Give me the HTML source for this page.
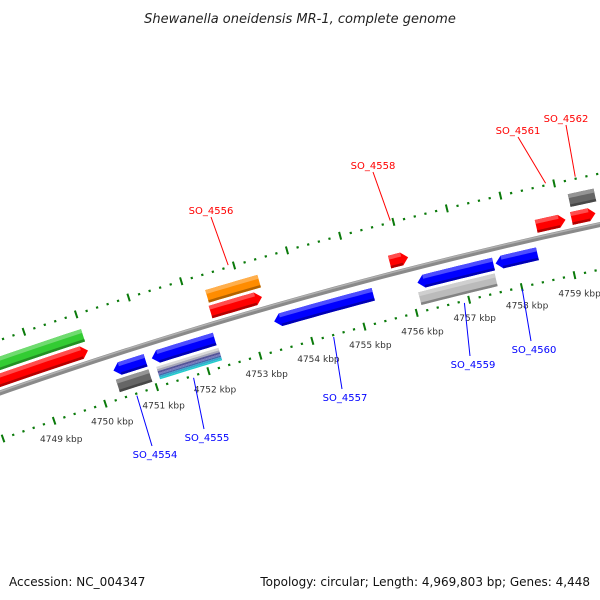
<!DOCTYPE html>
<html><head><meta charset="utf-8"><style>
html,body{margin:0;padding:0;background:#fff;}
svg{display:block;}
</style></head><body>
<svg id="chart" width="600" height="600" xmlns="http://www.w3.org/2000/svg">
<text x="300" y="23" text-anchor="middle" font-family="DejaVu Sans, sans-serif" font-style="italic" font-size="13" fill="#222">Shewanella oneidensis MR-1, complete genome</text>
<g id="map"></g>
<text x="9" y="586" font-family="DejaVu Sans, sans-serif" font-size="12" fill="#111">Accession: NC_004347</text>
<text x="590" y="586" text-anchor="end" font-family="DejaVu Sans, sans-serif" font-size="12" fill="#111">Topology: circular; Length: 4,969,803 bp; Genes: 4,448</text>
</svg>
<script>
// ---- data ----
const featStart = [4746.0, 4746.0, 4752.37, 4752.35, 4755.75, 4758.51, 4759.17, 4759.2, 4750.33, 4750.32, 4751.07, 4751.1, 4753.42, 4756.15, 4756.12, 4757.63];
const featEnd   = [4750.0, 4750.0, 4753.36, 4753.33, 4756.10, 4759.06, 4759.62, 4759.68, 4750.95, 4750.95, 4752.28, 4752.3, 4755.31, 4757.59, 4757.57, 4758.42];
const featDir   = [0, 1, 0, 1, 1, 1, 1, 0, -1, 0, -1, 0, -1, -1, 0, -1];
const featLane  = [28, 12, 28, 12, 12, 12, 12, 30, -15, -31, -15, -31, -15, -15, -31, -15];
const featColor = ['#33cc33','#ff0000','#ff8c00','#ff0000','#ff0000','#ff0000','#ff0000','#666666','#0000ff','#666666','#0000ff','stripe','#0000ff','#0000ff','#bbbbbb','#0000ff'];
const tickKbp = [4748, 4749, 4750, 4751, 4752, 4753, 4754, 4755, 4756, 4757, 4758, 4759, 4760];
const kbpLabels = ['4749 kbp','4750 kbp','4751 kbp','4752 kbp','4753 kbp','4754 kbp','4755 kbp','4756 kbp','4757 kbp','4758 kbp','4759 kbp'];
const kbpLabelPos = [4749, 4750, 4751, 4752, 4753, 4754, 4755, 4756, 4757, 4758, 4759];
const geneNames = ['SO_4556','SO_4558','SO_4561','SO_4562','SO_4554','SO_4555','SO_4557','SO_4559','SO_4560'];
const geneKbp   = [4752.9, 4755.95, 4758.85, 4759.4, 4750.6, 4751.7, 4754.4, 4756.9, 4758.0];
const geneStrand= [1, 1, 1, 1, -1, -1, -1, -1, -1];
const geneLabelX= [211, 373, 518, 566, 155, 207, 345, 473, 534];
const geneLabelY= [214, 169, 134, 122, 458, 441, 401, 368, 353];

// ---- geometry ----
const CX = 1648, CY = 5113.5, R = 5000;
function pt(k, dr){
  const a = (-107.51 + (k - 4751) * 0.625) * Math.PI / 180;
  const r = R + dr;
  return [CX + r * Math.cos(a), CY + r * Math.sin(a)];
}
const NS = 'http://www.w3.org/2000/svg';
const map = document.getElementById('map');
function mk(tag, attrs){
  const el = document.createElementNS(NS, tag);
  for (const k in attrs) el.setAttribute(k, attrs[k]);
  map.appendChild(el);
  return el;
}
function arcPath(k0, k1, dr){
  let d = '';
  for (let i = 0; i <= 30; i++){
    const p = pt(k0 + (k1 - k0) * i / 30, dr);
    d += (i ? 'L' : 'M') + p[0].toFixed(2) + ' ' + p[1].toFixed(2);
  }
  return d;
}
function bandPoly(s, e, dir, c, h0, h1, h){
  // polygon between offsets c+h0 and c+h1 (relative), with arrow shape of full half-width h
  const t = 0.12, pts = [];
  let bs = s, be = e;
  if (dir === 1) be = e - t;
  if (dir === -1) bs = s + t;
  const N = 12;
  for (let i = 0; i <= N; i++) pts.push(pt(bs + (be - bs) * i / N, c + h1));
  if (dir === 1) { pts.push(pt(e, c + Math.min(h1, Math.max(h0, 0)) * 0 + (h1 + h0) / 2 * (Math.abs(h1) < h ? 1 : 0))); }
  for (let i = N; i >= 0; i--) pts.push(pt(bs + (be - bs) * i / N, c + h0));
  if (dir === -1) { pts.push(pt(s, c + (h1 + h0) / 2 * (Math.abs(h1) < h ? 1 : 0))); }
  return pts.map(p => p[0].toFixed(2) + ',' + p[1].toFixed(2)).join(' ');
}
function shade(hex, f){
  const n = parseInt(hex.slice(1), 16);
  let r = n >> 16, g = (n >> 8) & 255, b = n & 255;
  if (f > 0){ r += (255 - r) * f; g += (255 - g) * f; b += (255 - b) * f; }
  else { r *= 1 + f; g *= 1 + f; b *= 1 + f; }
  return 'rgb(' + Math.round(r) + ',' + Math.round(g) + ',' + Math.round(b) + ')';
}

// backbone
const bb = mk('path', {d: arcPath(4745, 4762, 0), stroke: '#8a8a8a', 'stroke-width': 5, fill: 'none'});


const bbh = mk('path', {d: arcPath(4745, 4762, 1.3), stroke: '#b0b0b0', 'stroke-width': 1.5, fill: 'none'});



// tick rings
[50, -44].forEach(function(ring, ri){
  for (let k = 4745; k <= 4762.001; k += 0.2){
    const kk = Math.round(k * 10) / 10;
    const major = Math.abs(kk - Math.round(kk)) < 0.01;
    if (major){
      const a = pt(kk, ring - 4), b = pt(kk, ring + 4);
      const t = mk('line', {x1: a[0], y1: a[1], x2: b[0], y2: b[1], stroke: '#0a7a0a', 'stroke-width': 2});
      
      
    } else {
      const a = pt(kk, ring - 1.1), b = pt(kk, ring + 1.1);
      const t = mk('line', {x1: a[0], y1: a[1], x2: b[0], y2: b[1], stroke: '#0a7a0a', 'stroke-width': 2.2});
      
      
    }
  }
});

// kbp labels
kbpLabels.forEach(function(lbl, i){
  const p = pt(kbpLabelPos[i], -63);
  const t = mk('text', {x: p[0] + 1, y: p[1] + 3, 'text-anchor': 'middle', 'font-family': 'DejaVu Sans, sans-serif', 'font-size': 9, fill: '#333'});
  t.textContent = lbl;
  
  
});

// features
const H = 6.5;
featStart.forEach(function(s, i){
  const e = featEnd[i], dir = featDir[i], c = featLane[i], col = featColor[i];
  if (col === 'stripe'){
    const bands = [['#d8d8d8', 4, 6.5], ['#a8a8b8', 2, 4], ['#555599', 0, 2], ['#7777bb', -1.5, 0], ['#4466aa', -3, -1.5], ['#33aacc', -5, -3], ['#22cccc', -6.5, -5]];
    bands.forEach(function(bd){
      const p = mk('polygon', {points: bandPoly(s, e, 0, c, bd[1], bd[2], H), fill: bd[0]});
      
      
    });
    return;
  }
  const base = mk('polygon', {points: bandPoly(s, e, dir, c, -H, H, H), fill: col});
  
  
  const hi = mk('polygon', {points: bandPoly(s + (dir === -1 ? 0.12 : 0), e - (dir === 1 ? 0.12 : 0), 0, c, 2.5, H, H), fill: shade(col, 0.3)});
  
  
  const lo = mk('polygon', {points: bandPoly(s + (dir === -1 ? 0.12 : 0), e - (dir === 1 ? 0.12 : 0), 0, c, -H, -4, H), fill: shade(col, -0.3)});
  
  
});

// gene labels
geneNames.forEach(function(name, i){
  const ring = geneStrand[i] > 0 ? 52 : -46;
  const p = pt(geneKbp[i], ring);
  const lx = geneLabelX[i], ly = geneLabelY[i] + (geneStrand[i] > 0 ? 3 : -12);
  const col = geneStrand[i] > 0 ? '#ff0000' : '#0000ff';
  const l = mk('line', {x1: lx + 3 * (geneStrand[i] > 0 ? 0 : -1), y1: ly, x2: p[0], y2: p[1], stroke: col, 'stroke-width': 1});
  
  
  const t = mk('text', {x: geneLabelX[i], y: geneLabelY[i], 'text-anchor': 'middle', 'font-family': 'DejaVu Sans, sans-serif', 'font-size': 10, fill: col});
  t.textContent = name;
  
  
});
</script>
</body></html>
